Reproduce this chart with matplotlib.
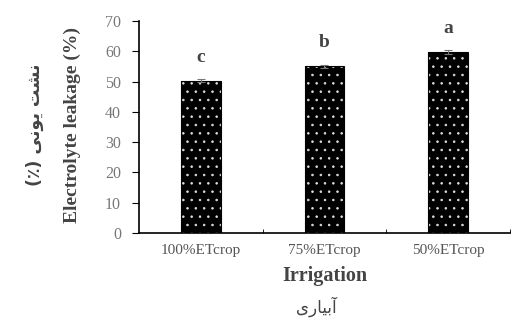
import matplotlib.pyplot as plt
import numpy as np

treatments = ["100%ETcrop", "75%ETcrop", "50%ETcrop"]
leakage = [50.3, 55.0, 59.8]
errors = [0.6, 0.5, 0.6]
groups = ["c", "b", "a"]

# persian labels, written in presentation forms (visual order)
fa_ylabel = "(\u066a) \ufef0\ufee7\ufeee\ufef3 \ufe96\ufeb8\ufee7"
fa_xlabel = "\ufeef\ufead\ufe8e\ufef4\ufe91\ufe81"

plt.rcParams["font.family"] = ["Liberation Serif", "DejaVu Sans"]
plt.rcParams["hatch.linewidth"] = 0.6

fig = plt.figure(figsize=(5.11, 3.33), dpi=100)
ax = fig.add_axes([0.272, 0.300, 0.726, 0.637])

x = np.arange(len(treatments))
w = 0.32
# black bars with white dots
ax.bar(x, leakage, width=w, color="black", edgecolor="#dddddd",
       hatch="..", linewidth=0, zorder=2)
ax.bar(x, leakage, width=w, fill=False, edgecolor="black", linewidth=0.8, zorder=3)
ax.errorbar(x, leakage, yerr=errors, fmt="none", ecolor="#777777",
            elinewidth=0.8, capsize=3, capthick=0.8, zorder=4)

for xi, v, g in zip(x, leakage, groups):
    ax.text(xi, v + 5, g, ha="center", va="bottom", fontsize=14,
            fontweight="bold", color="#444444")

ax.set_xlim(-0.5, 2.5)
ax.set_ylim(0, 70)
ax.set_yticks(range(0, 71, 10))
ax.set_xticks(x)
ax.set_xticklabels(treatments, fontsize=11, color="#555555")
ax.set_xticks([0.5, 1.5, 2.5], minor=True)
ax.tick_params(axis="x", which="major", length=0, pad=8)
ax.tick_params(axis="x", which="minor", direction="in", length=3)
ax.tick_params(axis="y", direction="out", length=5, labelsize=11.5,
               labelcolor="#777777", pad=8)

for s in ["top", "right"]:
    ax.spines[s].set_visible(False)
ax.spines["left"].set_linewidth(1.2)
ax.spines["bottom"].set_linewidth(1.2)

ax.set_ylabel("Electrolyte leakage (%)", fontsize=14, fontweight="bold",
              color="#444444")
ax.yaxis.set_label_coords(-0.155, 0.51)
ax.set_xlabel("Irrigation", fontsize=14.5, fontweight="bold",
              color="#444444")
ax.xaxis.set_label_coords(0.50, -0.155)

fig.text(0.068, 0.625, fa_ylabel, rotation=90, ha="center", va="center",
         fontsize=12.5, fontweight="bold", color="#444444", family="DejaVu Sans")
fig.text(0.62, 0.078, fa_xlabel, ha="center", va="center",
         fontsize=12, color="#444444", family="DejaVu Sans")

fig.savefig("out.png", dpi=100)
